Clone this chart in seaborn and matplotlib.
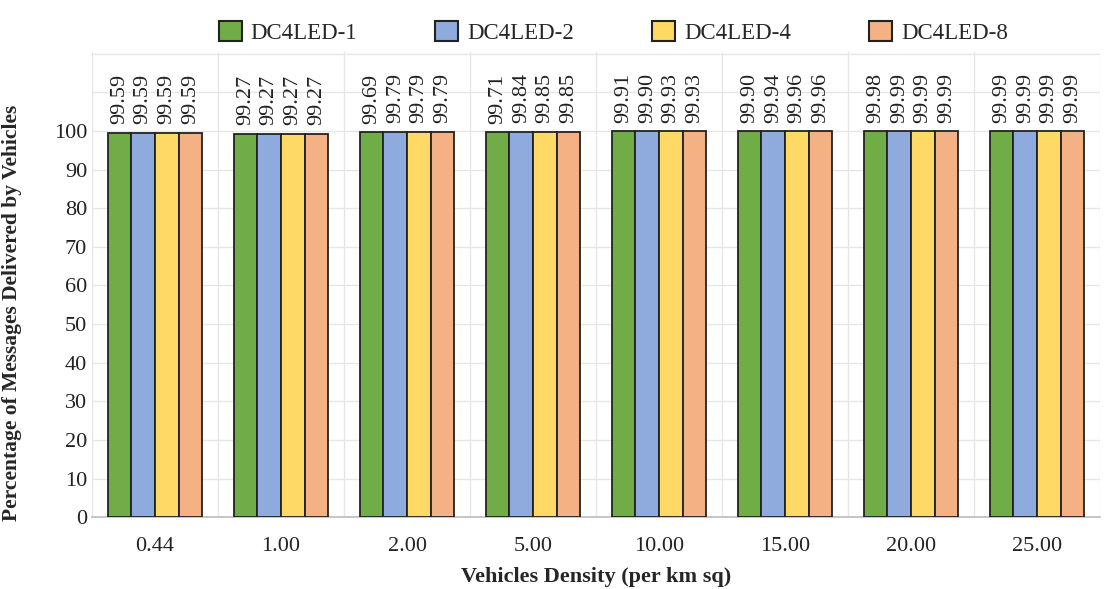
import numpy as np
import pandas as pd
import seaborn as sns
import matplotlib.pyplot as plt
from matplotlib.patches import Patch

# data
densities = ["0.44", "1.00", "2.00", "5.00", "10.00", "15.00", "20.00", "25.00"]
series = ["DC4LED-1", "DC4LED-2", "DC4LED-4", "DC4LED-8"]
dc1 = [99.59, 99.27, 99.69, 99.71, 99.91, 99.90, 99.98, 99.99]
dc2 = [99.59, 99.27, 99.79, 99.84, 99.90, 99.94, 99.99, 99.99]
dc4 = [99.59, 99.27, 99.79, 99.85, 99.93, 99.96, 99.99, 99.99]
dc8 = [99.59, 99.27, 99.79, 99.85, 99.93, 99.96, 99.99, 99.99]
colors = ["#70AD47", "#8FAADC", "#FFD966", "#F4B183"]

df = pd.DataFrame({"density": densities * 4,
                   "series": np.repeat(series, len(densities)),
                   "value": dc1 + dc2 + dc4 + dc8})

sns.set_theme(style="white")
plt.rcParams['font.family'] = ['Liberation Serif', 'DejaVu Serif']

fig = plt.figure(figsize=(11.09, 5.89), dpi=100)
ax = fig.add_axes([0.083, 0.122, 0.909, 0.79])

sns.barplot(data=df, x="density", y="value", hue="series", palette=colors,
            order=densities, hue_order=series, width=0.75, saturation=1,
            edgecolor="#222222", linewidth=1.3, ax=ax, legend=False, zorder=3)

for cont in ax.containers:
    ax.bar_label(cont, labels=[f"{b.get_height():.2f}" for b in cont],
                 rotation=90, padding=6, fontsize=16, color="#222222")

ax.set_ylim(0, 120.5)
ax.set_xlim(-0.5, len(densities) - 0.5)
ax.set_yticks(np.arange(0, 121, 10))
ax.set_yticklabels([str(v) if v <= 100 else "" for v in range(0, 121, 10)])
ax.set_xticks(np.arange(-0.5, len(densities), 1), minor=True)
ax.grid(axis="y", which="major", color="#E6E6E6", linewidth=1, zorder=0)
ax.grid(axis="x", which="minor", color="#E6E6E6", linewidth=1, zorder=0)
ax.tick_params(axis="both", which="both", length=0, labelsize=16, colors="#222222")
ax.tick_params(axis="x", pad=14)
for s in ["top", "right", "left"]:
    ax.spines[s].set_visible(False)
ax.spines["bottom"].set_color("#BFBFBF")

ax.set_xlabel("Vehicles Density (per km sq)", fontsize=16, fontweight="bold", labelpad=8)
ax.set_ylabel("Percentage of Messages Delivered by Vehicles", fontsize=15.5, fontweight="bold")
ax.yaxis.set_label_coords(-0.069, 0.44)

handles = [Patch(facecolor=c, edgecolor="#222222", linewidth=1.5) for c in colors]
fig.legend(handles, series, loc="upper center", bbox_to_anchor=(0.553, 1.0), ncol=4,
           frameon=False, fontsize=16.5, columnspacing=3.4, handlelength=1.0,
           handleheight=1.0, handletextpad=0.4)

fig.savefig("out.png", dpi=100)
